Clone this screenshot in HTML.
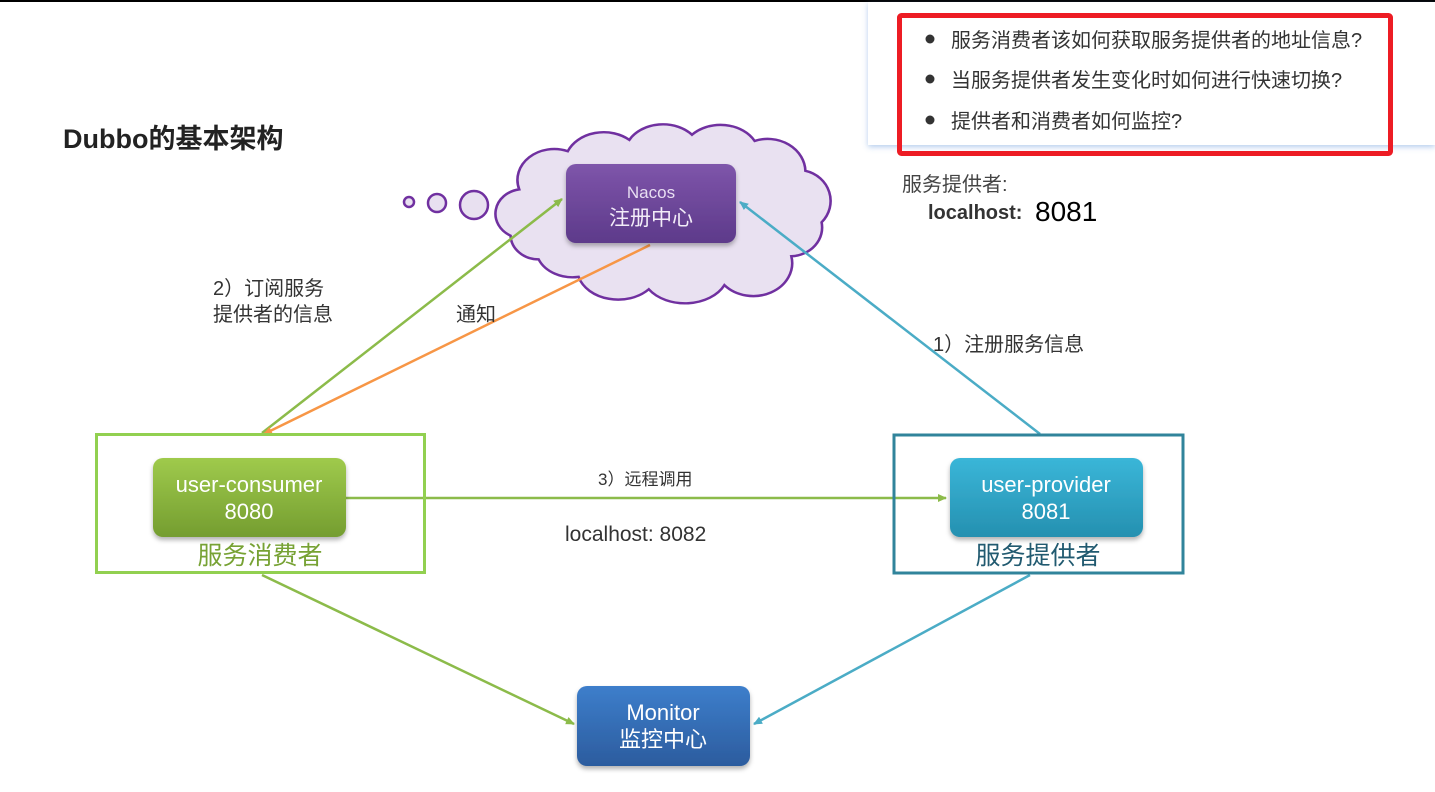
<!DOCTYPE html>
<html><head><meta charset="utf-8">
<style>
html,body{margin:0;padding:0;background:#fff;}
svg{display:block;}
text{font-family:"Liberation Sans","Noto Sans CJK SC",sans-serif;}
</style></head>
<body>
<svg width="1435" height="792" viewBox="0 0 1435 792" xmlns="http://www.w3.org/2000/svg">
<defs>
<linearGradient id="gp" x1="0" y1="0" x2="0" y2="1"><stop offset="0" stop-color="#7e55aa"/><stop offset="1" stop-color="#5d3a8a"/></linearGradient>
<linearGradient id="gg" x1="0" y1="0" x2="0" y2="1"><stop offset="0" stop-color="#9fca4c"/><stop offset="1" stop-color="#749d30"/></linearGradient>
<linearGradient id="gb" x1="0" y1="0" x2="0" y2="1"><stop offset="0" stop-color="#3ab6d8"/><stop offset="1" stop-color="#2590b0"/></linearGradient>
<linearGradient id="gm" x1="0" y1="0" x2="0" y2="1"><stop offset="0" stop-color="#3d7ecb"/><stop offset="1" stop-color="#2c5c9e"/></linearGradient>
<filter id="sh" x="-10%" y="-10%" width="120%" height="130%"><feDropShadow dx="0" dy="3" stdDeviation="2.5" flood-color="#000" flood-opacity="0.3"/></filter>
<filter id="sh2" x="-5%" y="-5%" width="110%" height="120%"><feDropShadow dx="0" dy="2" stdDeviation="3" flood-color="#5a8fd8" flood-opacity="0.45"/></filter>
<marker id="ag" markerWidth="10" markerHeight="10" refX="8" refY="5" orient="auto" markerUnits="userSpaceOnUse"><path d="M0,1 L9,5 L0,9 z" fill="#8cbb4a"/></marker>
<marker id="ab" markerWidth="10" markerHeight="10" refX="8" refY="5" orient="auto" markerUnits="userSpaceOnUse"><path d="M0,1 L9,5 L0,9 z" fill="#4bacc6"/></marker>
<marker id="ao" markerWidth="10" markerHeight="10" refX="8" refY="5" orient="auto" markerUnits="userSpaceOnUse"><path d="M0,1 L9,5 L0,9 z" fill="#f79646"/></marker>
</defs>
<rect x="0" y="0" width="1435" height="2" fill="#000"/>
<!-- popup -->
<rect x="868" y="2" width="567" height="143" fill="#fff" filter="url(#sh2)"/>
<rect x="899.5" y="15.5" width="491" height="138" fill="none" stroke="#ed1c24" stroke-width="5" rx="2"/>
<circle cx="930" cy="39" r="4.5" fill="#333"/>
<circle cx="930" cy="79" r="4.5" fill="#333"/>
<circle cx="930" cy="120" r="4.5" fill="#333"/>
<text x="951" y="47" font-size="20" fill="#333">服务消费者该如何获取服务提供者的地址信息?</text>
<text x="951" y="87" font-size="20" fill="#333">当服务提供者发生变化时如何进行快速切换?</text>
<text x="951" y="128" font-size="20" fill="#333">提供者和消费者如何监控?</text>
<text x="902" y="191" font-size="20" fill="#444">服务提供者:</text>
<text x="928" y="219" font-size="20" font-weight="bold" fill="#333">localhost:</text>
<text x="1035" y="221" font-size="28" fill="#000">8081</text>
<!-- title -->
<text x="63" y="148" font-size="27" font-weight="bold" fill="#222">Dubbo的基本架构</text>
<!-- cloud -->
<circle cx="409" cy="202" r="5" fill="#e8e0f0" stroke="#7030a0" stroke-width="2.5"/>
<circle cx="437" cy="203" r="9" fill="#e8e0f0" stroke="#7030a0" stroke-width="2.5"/>
<circle cx="474" cy="205" r="14" fill="#e8e0f0" stroke="#7030a0" stroke-width="2.5"/>
<g transform="translate(665,212) scale(1.08,1.03) translate(-665,-212)">
<path d="M522,235 A26,24 0 0 1 530,190 A34,30 0 0 1 575,153 A36,30 0 0 1 632,142 A35,28 0 0 1 690,137 A36,30 0 0 1 748,143 A35,32 0 0 1 795,172 A30,30 0 0 1 810,222 A30,28 0 0 1 782,255 A36,32 0 0 1 720,283 A40,30 0 0 1 650,287 A38,30 0 0 1 585,275 A34,28 0 0 1 548,258 A26,24 0 0 1 522,235 Z" fill="#e9e1f1" stroke="#7030a0" stroke-width="2.4"/>
</g>
<!-- arrows -->
<line x1="262" y1="433" x2="562" y2="199" stroke="#8cbb4a" stroke-width="2.5" marker-end="url(#ag)"/>
<line x1="650" y1="245" x2="264" y2="434" stroke="#f79646" stroke-width="2.5" marker-end="url(#ao)"/>
<line x1="1040" y1="434" x2="740" y2="202" stroke="#4bacc6" stroke-width="2.5" marker-end="url(#ab)"/>
<line x1="346" y1="498" x2="946" y2="498" stroke="#8cbb4a" stroke-width="2.5" marker-end="url(#ag)"/>
<line x1="262" y1="575" x2="574" y2="724" stroke="#8cbb4a" stroke-width="2.5" marker-end="url(#ag)"/>
<line x1="1030" y1="575" x2="754" y2="724" stroke="#4bacc6" stroke-width="2.5" marker-end="url(#ab)"/>
<!-- nacos -->
<rect x="566" y="164" width="170" height="79" rx="10" fill="url(#gp)" filter="url(#sh)"/>
<text x="651" y="198" font-size="17" fill="#e8def2" text-anchor="middle">Nacos</text>
<text x="651" y="225" font-size="21" fill="#f2ecf8" text-anchor="middle">注册中心</text>
<!-- consumer -->
<rect x="96.5" y="434.5" width="328" height="138" fill="none" stroke="#92d050" stroke-width="3"/>
<rect x="153" y="458" width="193" height="79" rx="10" fill="url(#gg)" filter="url(#sh)"/>
<text x="249" y="492" font-size="22" fill="#fff" text-anchor="middle">user-consumer</text>
<text x="249" y="519" font-size="22" fill="#fff" text-anchor="middle">8080</text>
<text x="260" y="564" font-size="25" fill="#77a234" text-anchor="middle">服务消费者</text>
<!-- provider -->
<rect x="894" y="435" width="289" height="138" fill="none" stroke="#31849b" stroke-width="3"/>
<rect x="950" y="458" width="193" height="79" rx="10" fill="url(#gb)" filter="url(#sh)"/>
<text x="1046" y="492" font-size="22" fill="#fff" text-anchor="middle">user-provider</text>
<text x="1046" y="519" font-size="22" fill="#fff" text-anchor="middle">8081</text>
<text x="1038" y="564" font-size="25" fill="#215a70" text-anchor="middle">服务提供者</text>
<!-- monitor -->
<rect x="577" y="686" width="173" height="80" rx="10" fill="url(#gm)" filter="url(#sh)"/>
<text x="663" y="720" font-size="22" fill="#fff" text-anchor="middle">Monitor</text>
<text x="663" y="747" font-size="22" fill="#fff" text-anchor="middle">监控中心</text>
<!-- labels -->
<text x="213" y="295" font-size="20" fill="#333">2）订阅服务</text>
<text x="213" y="321" font-size="20" fill="#333">提供者的信息</text>
<text x="456" y="321" font-size="20" fill="#333">通知</text>
<text x="933" y="351" font-size="20" fill="#333">1）注册服务信息</text>
<text x="598" y="485" font-size="17" fill="#333">3）远程调用</text>
<text x="565" y="541" font-size="21" fill="#333">localhost: 8082</text>
</svg>
</body></html>
